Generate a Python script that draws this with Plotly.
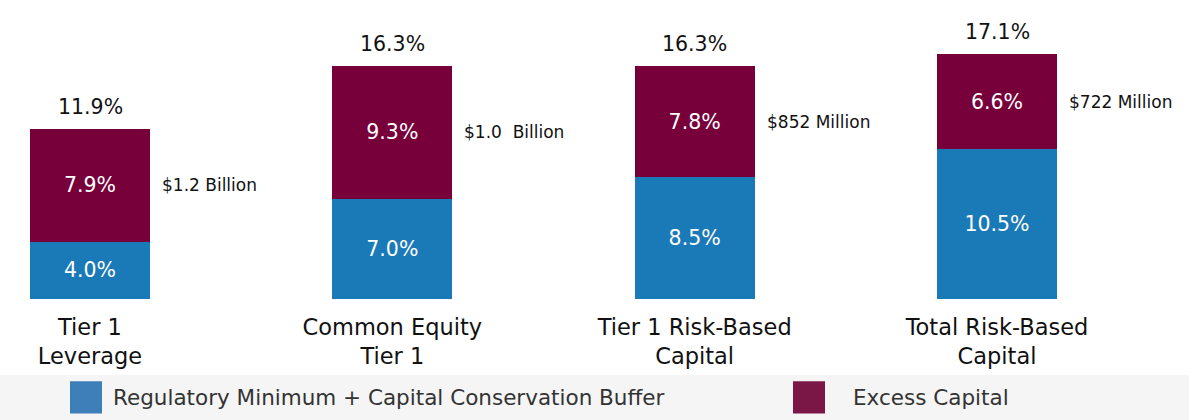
import plotly.graph_objects as go

categories = ["Tier 1<br>Leverage", "Common Equity<br>Tier 1", "Tier 1 Risk-Based<br>Capital", "Total Risk-Based<br>Capital"]
reg_min = [4.0, 7.0, 8.5, 10.5]
excess = [7.9, 9.3, 7.8, 6.6]
totals = [11.9, 16.3, 16.3, 17.1]
excess_dollars = ["$1.2 Billion", "$1.0  Billion", "$852 Million", "$722 Million"]
series_names = ["Regulatory Minimum + Capital Conservation Buffer", "Excess Capital"]

BLUE = "#1a79b7"
MAROON = "#77003a"
FONT = "DejaVu Sans"

xs = list(range(len(categories)))
bw = 0.397

fig = go.Figure()
fig.add_trace(go.Bar(
    x=xs, y=reg_min, width=bw, marker=dict(color=BLUE, line=dict(width=0)),
    text=[f"{v:.1f}%" for v in reg_min], textposition="inside", insidetextanchor="middle",
    textfont=dict(color="white", size=20.5, family=FONT), name=series_names[0], showlegend=False,
))
fig.add_trace(go.Bar(
    x=xs, y=excess, width=bw, marker=dict(color=MAROON, line=dict(width=0)),
    text=[f"{v:.1f}%" for v in excess], textposition="inside", insidetextanchor="middle",
    textfont=dict(color="white", size=20.5, family=FONT), name=series_names[1], showlegend=False,
))

annotations = []
for i, (t, r, e, d) in enumerate(zip(totals, reg_min, excess, excess_dollars)):
    annotations.append(dict(x=i, y=t, xref="x", yref="y", text=f"{t:.1f}%", showarrow=False,
                            yanchor="bottom", yshift=8, font=dict(size=20.5, color="#111", family=FONT)))
    annotations.append(dict(x=i + bw / 2, y=r + e / 2, xref="x", yref="y", text=d, showarrow=False,
                            xanchor="left", xshift=10, font=dict(size=17, color="#111", family=FONT)))

# legend band
shapes = [
    dict(type="rect", xref="paper", yref="paper", x0=0, x1=1, y0=-0.44, y1=-0.272,
         fillcolor="#f5f5f5", line=dict(width=0), layer="below"),
    dict(type="rect", xref="paper", yref="paper", x0=70 / 1189, x1=102 / 1189, y0=-0.41, y1=-0.295,
         fillcolor="#3f7fb9", line=dict(width=0)),
    dict(type="rect", xref="paper", yref="paper", x0=793 / 1189, x1=825 / 1189, y0=-0.41, y1=-0.295,
         fillcolor="#7b1747", line=dict(width=0)),
]
annotations.append(dict(x=111 / 1189, y=-0.352, xref="paper", yref="paper", text=series_names[0],
                        showarrow=False, xanchor="left", yanchor="middle",
                        font=dict(size=21.5, color="#333", family=FONT)))
annotations.append(dict(x=851 / 1189, y=-0.352, xref="paper", yref="paper", text=series_names[1],
                        showarrow=False, xanchor="left", yanchor="middle",
                        font=dict(size=21.5, color="#333", family=FONT)))

ppu = (997 - 90) / 3
fig.update_layout(
    barmode="stack",
    width=1189, height=420,
    margin=dict(l=0, r=0, t=20, b=121),
    paper_bgcolor="white", plot_bgcolor="white",
    xaxis=dict(range=[-90 / ppu, (1189 - 90) / ppu], tickvals=xs, ticktext=categories,
               showgrid=False, zeroline=False, showline=False, ticks="",
               ticklabelstandoff=12,
               tickfont=dict(size=22.5, color="#111", family=FONT)),
    yaxis=dict(range=[0, 19.5], visible=False, showgrid=False, zeroline=False),
    shapes=shapes,
    annotations=annotations,
    showlegend=False,
)
fig.write_html("out.html")
